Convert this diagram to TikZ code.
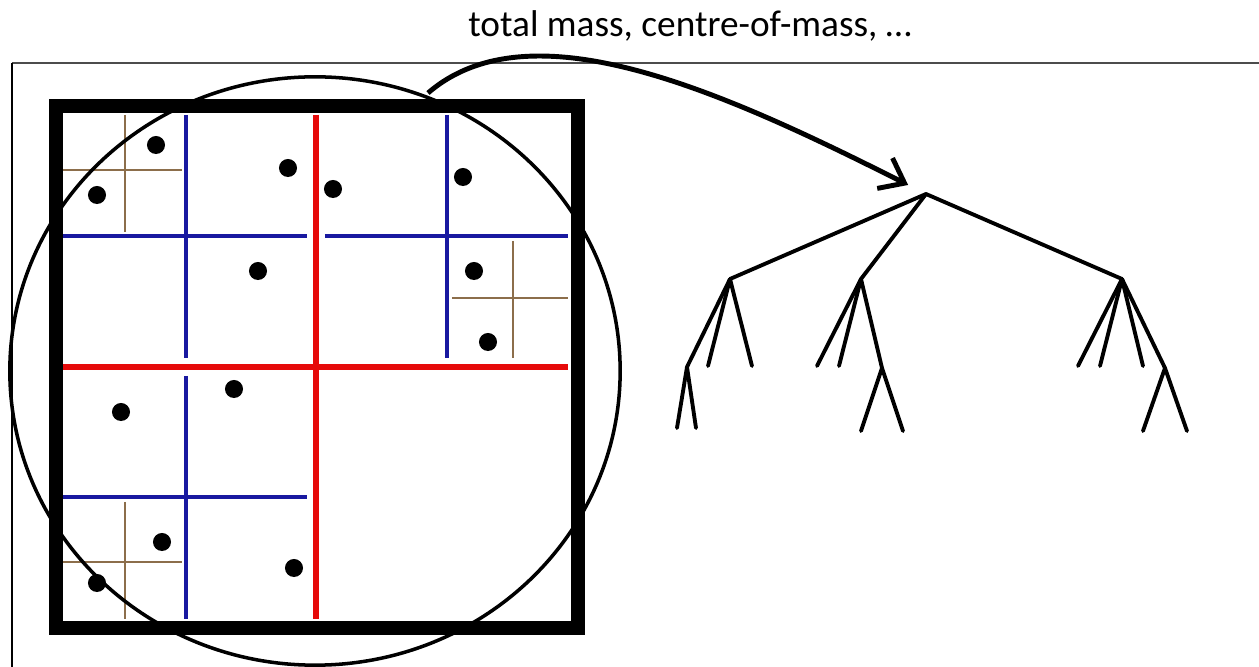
\documentclass[tikz,border=0pt]{standalone}
\usepackage{fontspec}
\setmainfont{Carlito}
\usepackage{xcolor}
\usetikzlibrary{arrows.meta}

\definecolor{splitred}{RGB}{230,10,10}
\definecolor{splitblue}{RGB}{25,25,160}
\definecolor{splitbrown}{RGB}{140,110,75}

\tikzset{
    particle/.style={circle, fill=black, minimum size=0.18cm, inner sep=0pt},
    branch/.style={line width=1.1pt, line cap=round},
    level1/.style={splitred, line width=1.5pt},
    level2/.style={splitblue, line width=0.9pt},
    level3/.style={splitbrown, line width=0.6pt}
}

\begin{document}
\begin{tikzpicture}[x=0.01cm, y=-0.01cm]
    \useasboundingbox (0,0) rectangle (1259,667);

    % Slide frame
    \draw[gray!60!black, line width=0.6pt] (12,63) -- (1259,63);
    \draw[black, line width=0.45pt] (12,63) -- (12,667);

    % First split
    \draw[level1] (316,115) -- (316,619);
    \draw[level1] (63,367) -- (568,367);

    % Second split
    \draw[level2] (186,115) -- (186,358);
    \draw[level2] (63,236) -- (307,236);
    \draw[level2] (447,115) -- (447,358);
    \draw[level2] (325,236) -- (568,236);
    \draw[level2] (186,376) -- (186,619);
    \draw[level2] (63,497) -- (307,497);

    % Third split
    \draw[level3] (125,115) -- (125,232);
    \draw[level3] (63,170) -- (182,170);
    \draw[level3] (513,241) -- (513,358);
    \draw[level3] (452,298) -- (568,298);
    \draw[level3] (125,502) -- (125,619);
    \draw[level3] (63,562) -- (182,562);

    % Root cell
    \draw[line width=3.7pt] (56,106) rectangle (578,628);

    % Bounding circle
    \draw[line width=1pt] (315,371) ellipse [x radius=3.05cm, y radius=2.94cm];

    % Particles
    \node[particle] (p1) at (156,145) {};
    \node[particle] (p2) at (97,195) {};
    \node[particle] (p3) at (288,168) {};
    \node[particle] (p4) at (333,189) {};
    \node[particle] (p5) at (258,271) {};
    \node[particle] (p6) at (463,177) {};
    \node[particle] (p7) at (474,271) {};
    \node[particle] (p8) at (488,342) {};
    \node[particle] (p9) at (121,412) {};
    \node[particle] (p10) at (234,389) {};
    \node[particle] (p11) at (162,542) {};
    \node[particle] (p12) at (97,583) {};
    \node[particle] (p13) at (294,568) {};

    % Tree nodes
    \coordinate (root) at (926,194);
    \coordinate (a) at (730,279);
    \coordinate (b) at (861,279);
    \coordinate (c) at (1122,279);
    \coordinate (a1) at (687,367);
    \coordinate (a2) at (708,366);
    \coordinate (a3) at (752,366);
    \coordinate (a11) at (677,428);
    \coordinate (a12) at (696,428);
    \coordinate (b1) at (817,366);
    \coordinate (b2) at (839,366);
    \coordinate (b3) at (882,368);
    \coordinate (b31) at (861,431);
    \coordinate (b32) at (903,431);
    \coordinate (c1) at (1078,366);
    \coordinate (c2) at (1100,366);
    \coordinate (c3) at (1143,366);
    \coordinate (c4) at (1165,368);
    \coordinate (c41) at (1143,431);
    \coordinate (c42) at (1187,431);

    % Tree branches
    \draw[branch] (root) -- (a);
    \draw[branch] (root) -- (b);
    \draw[branch] (root) -- (c);
    \draw[branch] (a) -- (a1);
    \draw[branch] (a) -- (a2);
    \draw[branch] (a) -- (a3);
    \draw[branch] (a1) -- (a11);
    \draw[branch] (a1) -- (a12);
    \draw[branch] (b) -- (b1);
    \draw[branch] (b) -- (b2);
    \draw[branch] (b) -- (b3);
    \draw[branch] (b3) -- (b31);
    \draw[branch] (b3) -- (b32);
    \draw[branch] (c) -- (c1);
    \draw[branch] (c) -- (c2);
    \draw[branch] (c) -- (c3);
    \draw[branch] (c) -- (c4);
    \draw[branch] (c4) -- (c41);
    \draw[branch] (c4) -- (c42);

    % Summary label
    \node[anchor=base, font=\fontsize{10.6}{12}\selectfont] (summary) at (690,37) {total mass, centre-of-mass, \ldots};

    % Arrow from circle to tree root
    \coordinate (src) at (428,93);
    \draw[-{Straight Barb[length=0.22cm, width=0.34cm]}, line width=1.4pt, shorten >=0.2cm]
        (src) .. controls (530,5) and (720,90) .. (root);
\end{tikzpicture}
\end{document}
